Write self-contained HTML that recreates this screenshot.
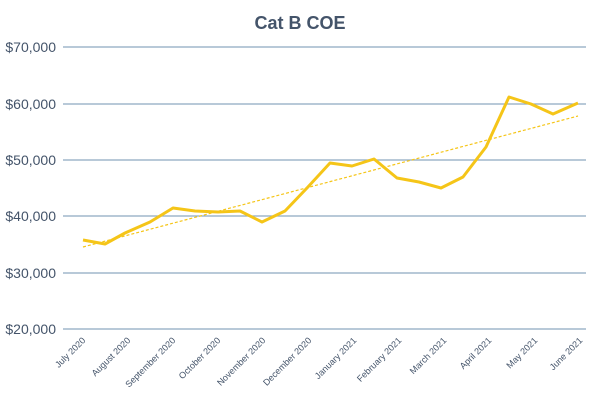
<!DOCTYPE html>
<html><head><meta charset="utf-8"><style>body{margin:0;background:#fff}svg{display:block}</style></head><body>
<svg width="600" height="400" xmlns="http://www.w3.org/2000/svg" font-family="Liberation Sans, sans-serif">
<rect width="600" height="400" fill="#fff"/>
<text x="300" y="29" text-anchor="middle" font-size="18" font-weight="bold" fill="#44546a">Cat B COE</text>
<g stroke="#8ea9c1" stroke-width="1.3">
<line x1="63" y1="47" x2="586" y2="47"/><line x1="63" y1="104" x2="586" y2="104"/><line x1="63" y1="160" x2="586" y2="160"/><line x1="63" y1="216" x2="586" y2="216"/><line x1="63" y1="273" x2="586" y2="273"/><line x1="63" y1="329" x2="586" y2="329"/>
</g>
<g font-size="14" fill="#44546a" text-anchor="end">
<text x="56" y="52">$70,000</text><text x="56" y="109">$60,000</text><text x="56" y="165">$50,000</text><text x="56" y="221">$40,000</text><text x="56" y="278">$30,000</text><text x="56" y="334">$20,000</text>
</g>
<g font-size="9" fill="#44546a" text-anchor="end">
<text transform="translate(86,341) rotate(-45)">July 2020</text>
<text transform="translate(131,341) rotate(-45)">August 2020</text>
<text transform="translate(176,341) rotate(-45)">September 2020</text>
<text transform="translate(221,341) rotate(-45)">October 2020</text>
<text transform="translate(266,341) rotate(-45)">November 2020</text>
<text transform="translate(312,341) rotate(-45)">December 2020</text>
<text transform="translate(357,341) rotate(-45)">January 2021</text>
<text transform="translate(402,341) rotate(-45)">February 2021</text>
<text transform="translate(447,341) rotate(-45)">March 2021</text>
<text transform="translate(492,341) rotate(-45)">April 2021</text>
<text transform="translate(538,341) rotate(-45)">May 2021</text>
<text transform="translate(583,341) rotate(-45)">June 2021</text>
</g>
<line x1="83" y1="247" x2="578" y2="116" stroke="#f5c518" stroke-width="1.2" stroke-dasharray="3,2"/>
<polyline fill="none" stroke="#f5c518" stroke-width="3" stroke-linejoin="round" points="83,240 105,244 125,233 150,222 173,208 195,211 218,212 240,211 262,222 285,211 307,188 330,163 352,166 374,159 397,178 419,182 441,188 463,177 486,147 509,97 531,104 553,114 578,103"/>
</svg>
</body></html>
